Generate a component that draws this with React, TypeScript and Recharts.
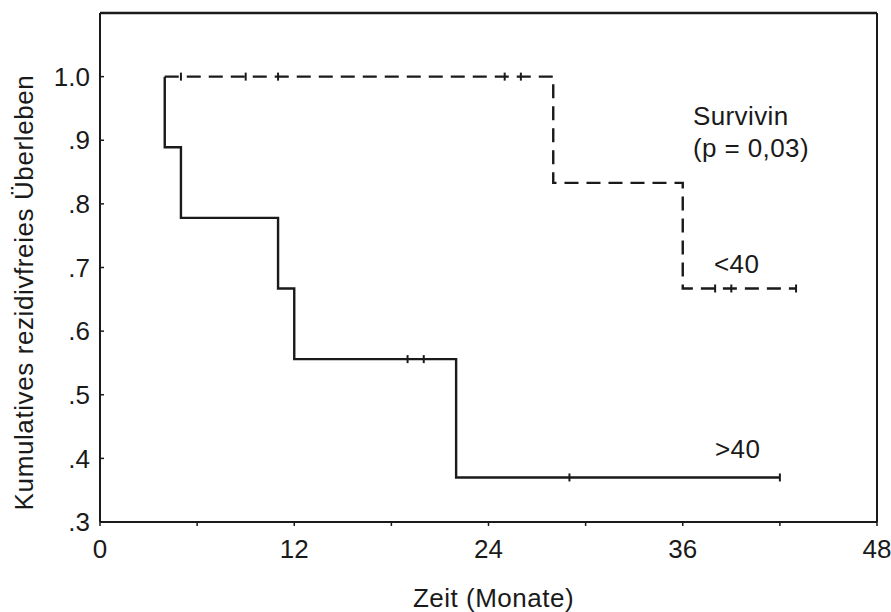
import React from 'react';
import {
  ComposedChart,
  Line,
  Scatter,
  XAxis,
  YAxis,
  ReferenceLine,
  ReferenceDot,
} from 'recharts';

// Group ">40": Kaplan-Meier step points (time in months, cumulative survival)
const highTimes = [4, 4, 5, 11, 12, 22, 42];
const highSurv = [1.0, 0.889, 0.778, 0.667, 0.556, 0.370, 0.370];
const highCensorTimes = [19, 20, 29, 42];
const highCensorSurv = [0.556, 0.556, 0.370, 0.370];

// Group "<40"
const lowTimes = [4, 28, 36, 43];
const lowSurv = [1.0, 0.833, 0.667, 0.667];
const lowCensorTimes = [5, 9, 11, 25, 26, 38, 39, 43];
const lowCensorSurv = [1.0, 1.0, 1.0, 1.0, 1.0, 0.667, 0.667, 0.667];

// Axis ticks
const xTicks = [0, 6, 12, 18, 24, 30, 36, 42, 48];
const yTicks = [0.3, 0.4, 0.5, 0.6, 0.7, 0.8, 0.9, 1.0];
const yTickLabels = ['.3', '.4', '.5', '.6', '.7', '.8', '.9', '1.0'];

// Annotations (data coordinates)
const annotations = [
  { t: 36.63, s: 0.924, text: 'Survivin' },
  { t: 36.63, s: 0.874, text: '(p = 0,03)' },
  { t: 37.93, s: 0.691, text: '<40' },
  { t: 37.99, s: 0.4006, text: '>40' },
];

const highData = highTimes.map((t, i) => ({ t, s: highSurv[i] }));
const lowData = lowTimes.map((t, i) => ({ t, s: lowSurv[i] }));
const highCensor = highCensorTimes.map((t, i) => ({ t, s: highCensorSurv[i] }));
const lowCensor = lowCensorTimes.map((t, i) => ({ t, s: lowCensorSurv[i] }));

const INK = '#1a1a1a';
const FONT = '"Liberation Sans", Arial, Helvetica, sans-serif';

const CensorMark = (props: any) => {
  const { cx, cy } = props;
  if (cx == null || cy == null) return null;
  return <line x1={cx} y1={cy - 4} x2={cx} y2={cy + 4} stroke={INK} strokeWidth={2} />;
};

const XTick = (p: any) => {
  const v = p.payload?.value;
  if (v == null || v % 12 !== 0) return null;
  return (
    <text x={p.x} y={p.y} dy="0.71em" textAnchor="middle" fill={INK} fontSize={26} fontFamily={FONT}>
      {String(v)}
    </text>
  );
};

const YTick = (p: any) => {
  const v = p.payload?.value;
  const idx = yTicks.indexOf(v);
  return (
    <text x={p.x} y={p.y} dy="0.355em" textAnchor="end" fill={INK} fontSize={26} fontFamily={FONT}>
      {idx >= 0 ? yTickLabels[idx] : ''}
    </text>
  );
};

export default function App() {
  return (
    <div style={{ position: 'absolute', left: 0, top: 0, background: '#fff' }}>
      <ComposedChart
        width={891}
        height={612}
        margin={{ top: 13, right: 14, bottom: 0, left: 0 }}
        style={{ fontFamily: FONT }}
      >
        <XAxis
          dataKey="t"
          type="number"
          domain={[0, 48]}
          ticks={xTicks}
          interval={0}
          allowDataOverflow
          height={90}
          axisLine={{ stroke: INK, strokeWidth: 2 }}
          tickLine={{ stroke: INK, strokeWidth: 1.5 }}
          tickSize={4}
          tickMargin={14}
          tick={<XTick />}
          label={{
            content: (p: any) => {
              const vb = p.viewBox || {};
              return (
                <text
                  x={vb.x + vb.width / 2 + 5}
                  y={vb.y + 85}
                  textAnchor="middle"
                  fill={INK}
                  fontSize={26}
                  letterSpacing={0.5}
                  fontFamily={FONT}
                >
                  Zeit (Monate)
                </text>
              );
            },
          }}
        />
        <YAxis
          type="number"
          domain={[0.3, 1.1]}
          ticks={yTicks}
          interval={0}
          allowDataOverflow
          width={100}
          axisLine={{ stroke: INK, strokeWidth: 2 }}
          tickLine={false}
          tickSize={0}
          tickMargin={10}
          tick={<YTick />}
          label={{
            content: (p: any) => {
              const vb = p.viewBox || {};
              const cx = vb.x + 33;
              const cy = vb.y + vb.height / 2 + 25;
              return (
                <text
                  x={cx}
                  y={cy}
                  transform={`rotate(-90, ${cx}, ${cy})`}
                  textAnchor="middle"
                  fill={INK}
                  fontSize={26}
                  letterSpacing={0.6}
                  fontFamily={FONT}
                >
                  Kumulatives rezidivfreies Überleben
                </text>
              );
            },
          }}
        />
        {/* frame */}
        <ReferenceLine y={1.1} stroke={INK} strokeWidth={2.5} ifOverflow="visible" />
        <ReferenceLine x={48} stroke={INK} strokeWidth={2} ifOverflow="visible" />
        {/* inward y ticks */}
        {yTicks.map((v) => (
          <ReferenceLine
            key={'yt' + v}
            segment={[
              { x: 0, y: v },
              { x: 0.25, y: v },
            ]}
            stroke={INK}
            strokeWidth={1.5}
          />
        ))}
        <Line
          data={highData}
          dataKey="s"
          type="stepAfter"
          stroke={INK}
          strokeWidth={2.4}
          dot={false}
          activeDot={false}
          isAnimationActive={false}
        />
        <Line
          data={lowData}
          dataKey="s"
          type="stepAfter"
          stroke={INK}
          strokeWidth={2.4}
          strokeDasharray="14 8"
          dot={false}
          activeDot={false}
          isAnimationActive={false}
        />
        <Scatter data={highCensor} dataKey="s" shape={CensorMark} isAnimationActive={false} />
        <Scatter data={lowCensor} dataKey="s" shape={CensorMark} isAnimationActive={false} />
        {annotations.map((a) => (
          <ReferenceDot
            key={a.text}
            x={a.t}
            y={a.s}
            r={0}
            shape={(p: any) => (
              <text x={p.cx} y={p.cy} fill={INK} fontSize={26} letterSpacing={0.4} fontFamily={FONT}>
                {a.text}
              </text>
            )}
          />
        ))}
      </ComposedChart>
    </div>
  );
}
